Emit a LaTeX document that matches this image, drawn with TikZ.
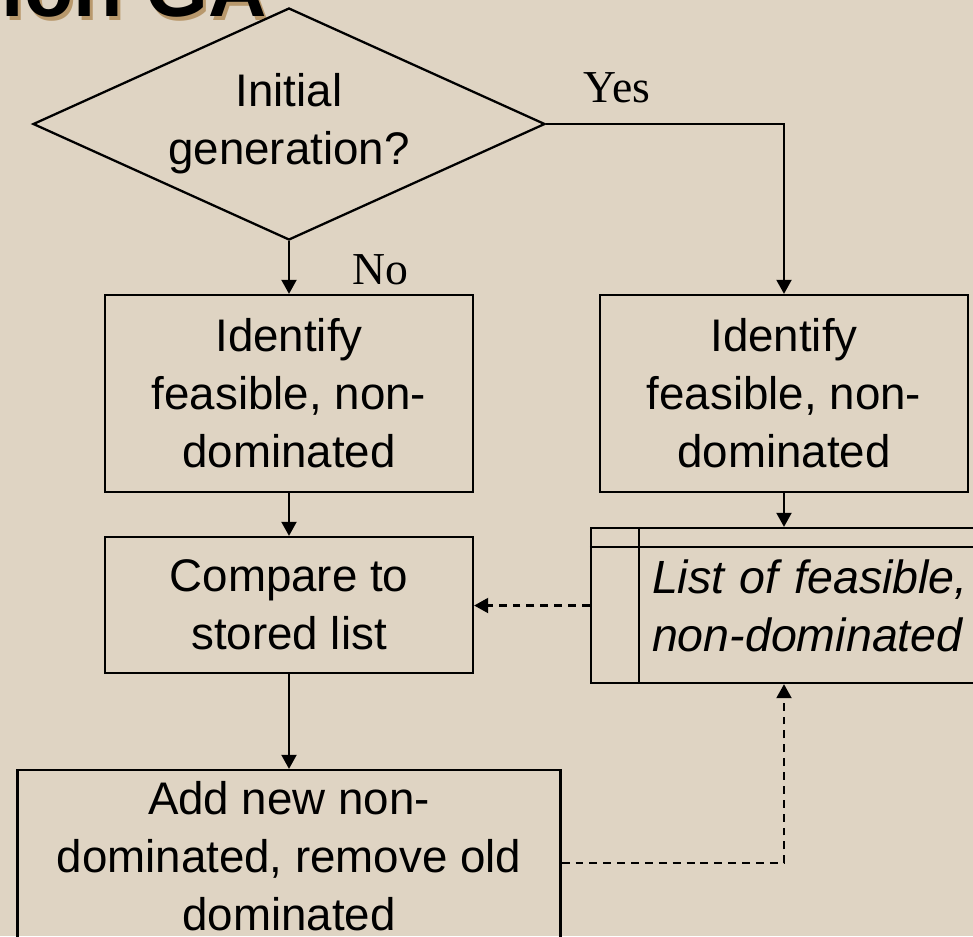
\documentclass[tikz,border=0pt]{standalone}
\usepackage{fontspec}
\setmainfont{Liberation Sans}
\newfontfamily\yesnofont{Liberation Serif}
\usepackage{tikz}
\usetikzlibrary{arrows.meta,positioning,shapes.geometric,calc}
\definecolor{slidebg}{RGB}{223,212,195}
\definecolor{titleshade}{RGB}{184,152,108}

\begin{document}
\begin{tikzpicture}[
  line width=1.3pt,
  >={Triangle[length=8pt,width=8.5pt]},
  every node/.style={font=\fontsize{26}{33}\selectfont, align=center},
  box/.style={rectangle, draw, inner sep=0pt, minimum width=7.36cm},
  decide/.style={diamond, draw, inner sep=0pt, aspect=2.2, minimum width=10.24cm, minimum height=4.64cm},
  lbl/.style={font=\yesnofont\fontsize{26}{30}\selectfont},
  titletxt/.style={font=\fontsize{46}{54}\selectfont\bfseries, inner sep=0pt, anchor=base east},
  flow/.style={->},
  back/.style={->, dash pattern=on 4.5pt off 3.4pt}
]
\fill[slidebg] (0,0) rectangle (19.46,-18.72);
\useasboundingbox (0,0) rectangle (19.46,-18.72);
\clip (0,0) rectangle (19.46,-18.72);

\node[titletxt, text=titleshade] (titleshadow) at (5.42,-0.40) {ion GA};
\node[titletxt] (title) at (5.36,-0.32) {ion GA};

\node[decide] (initgen) at (5.78,-2.48) {Initial\\generation?};
\node[box, minimum height=3.94cm] (identL) at (5.78,-7.87) {Identify\\feasible, non-\\dominated};
\node[box, minimum height=3.94cm] (identR) at (15.68,-7.87) {Identify\\feasible, non-\\dominated};
\node[box, minimum height=2.72cm] (compare) at (5.78,-12.10) {Compare to\\stored list};
\node[rectangle, draw, minimum width=8.84cm, minimum height=3.10cm, text width=6.40cm,
  inner xsep=1.22cm, align=left, font=\fontsize{26.5}{33}\selectfont\itshape] (storelist) at (16.24,-12.11)
  {List of feasible,\\non-dominated};
\draw (storelist.north west) ++(0.98,0) coordinate (sltop) -- (sltop |- storelist.south);
\draw (storelist.north west) ++(0,-0.40) coordinate (slleft) -- (slleft -| storelist.east);
\node[box, minimum width=10.86cm, minimum height=3.44cm] (addnew) at (5.78,-17.12)
  {Add new non-\\dominated, remove old\\dominated};

\coordinate (listbot) at (identR.south |- storelist.south);

\draw[flow] (initgen.south) -- (identL.north);
\node[lbl] (no) at (7.60,-5.40) {No};
\draw[flow] (initgen.east) -| (identR.north);
\node[lbl] (yes) at (12.34,-1.76) {Yes};
\draw[flow] (identL.south) -- (compare.north);
\draw[flow] (identR.south) -- (identR.south |- storelist.north);
\draw[back] (storelist.west) -- (storelist.west -| compare.east);
\draw[flow] (compare.south) -- (addnew.north);
\draw[back] ([yshift=-0.14cm]addnew.east) -| (listbot);
\end{tikzpicture}
\end{document}
